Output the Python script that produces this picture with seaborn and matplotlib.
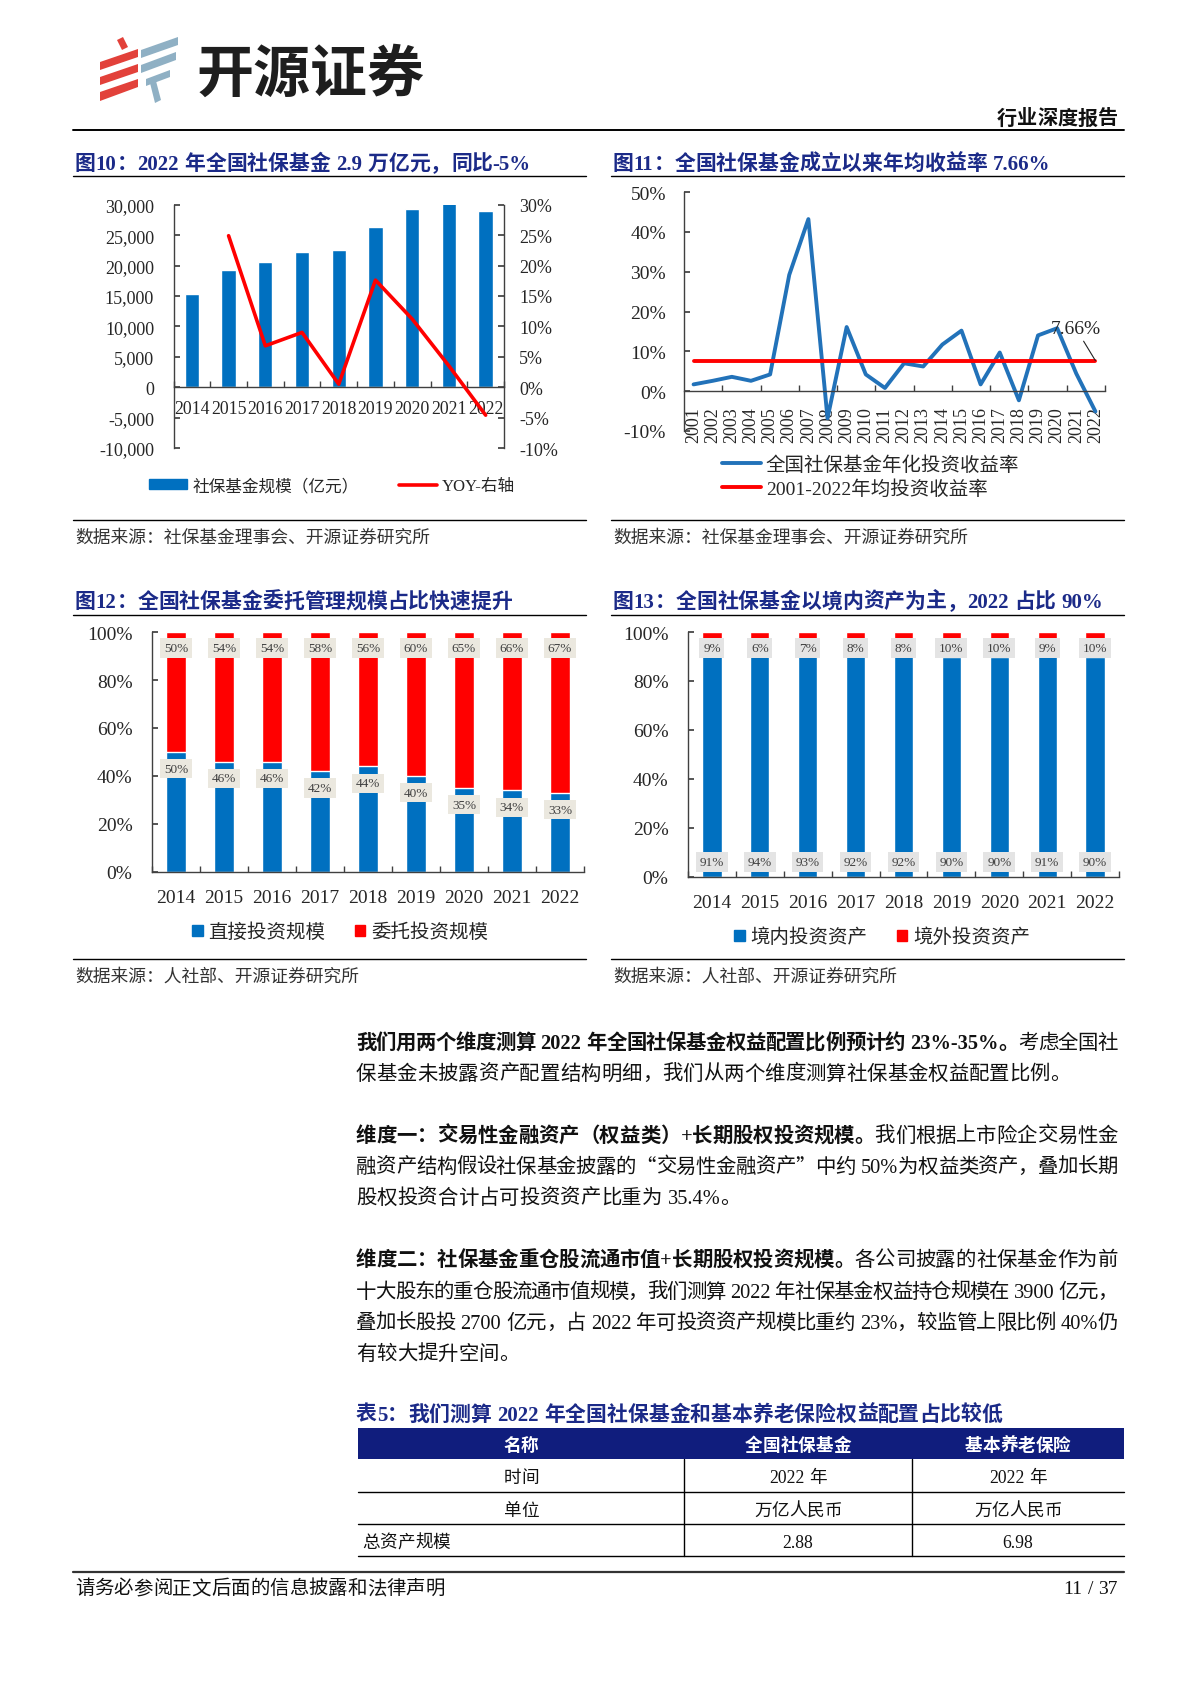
import matplotlib
matplotlib.use('Agg')
import numpy as np
import seaborn as sns
import matplotlib.pyplot as plt
from matplotlib.lines import Line2D
from matplotlib.patches import Patch, Polygon, Rectangle
from matplotlib.ticker import FuncFormatter

# ---------------- data ----------------
years_a = ['2014', '2015', '2016', '2017', '2018', '2019', '2020', '2021', '2022']
fund_scale = [15350, 19190, 20510, 22270, 22490, 26320, 29300, 30270, 28950]   # 亿元
yoy = [24.9, 6.8, 9.0, 0.5, 17.6, 11.2, 3.5, -4.6]                             # 2015-2022, %

years_b = [str(y) for y in range(2001, 2023)]
returns = [1.7, 2.6, 3.6, 2.6, 4.2, 29.2, 43.2, -6.8, 16.1, 4.2, 0.8,
           7.0, 6.2, 11.7, 15.2, 1.7, 9.7, -2.3, 14.0, 15.8, 4.4, -5.1]
avg_return = 7.66

direct = [50, 46, 46, 42, 44, 40, 35, 34, 33]
entrusted = [50, 54, 54, 58, 56, 60, 65, 66, 67]

domestic = [91, 94, 93, 92, 92, 90, 90, 91, 90]
overseas = [9, 6, 7, 8, 8, 10, 10, 9, 10]

table_head = ['名称', '全国社保基金', '基本养老保险']
table_rows = [['时间', '2022 年', '2022 年'],
              ['单位', '万亿人民币', '万亿人民币'],
              ['总资产规模', '2.88', '6.98']]

# ---------------- style ----------------
W, H = 1190, 1683
LATIN = 'Liberation Serif'
CJK = 'Noto Sans CJK SC'
NAVY = '#1b2a88'
BLUE = '#0070c0'
LBLUE = '#2272b9'
RED = '#ff0000'
AXC = '#404040'

sns.set_theme(style='white')
plt.rcParams['font.family'] = [LATIN, CJK]
plt.rcParams['axes.unicode_minus'] = False

fig = plt.figure(figsize=(W / 100, H / 100), dpi=100)
fig.patch.set_facecolor('white')
renderer = fig.canvas.get_renderer()


def fx(x):
    return x / W


def fy(y):
    return 1 - y / H


def add_axes(l, t, r, b):
    ax = fig.add_axes([fx(l), fy(b), (r - l) / W, (b - t) / H])
    ax.set_facecolor('none')
    return ax


def hline(x0, x1, y, lw=1.0, color='black'):
    fig.add_artist(Line2D([fx(x0), fx(x1)], [fy(y), fy(y)], transform=fig.transFigure,
                          lw=lw, color=color))


def vline(x, y0, y1, lw=1.0, color='black'):
    fig.add_artist(Line2D([fx(x), fx(x)], [fy(y0), fy(y1)], transform=fig.transFigure,
                          lw=lw, color=color))


def is_wide(ch):
    return ord(ch) > 0x2000


def tokenize(runs):
    toks = []
    for text, bold in runs:
        buf, sp = '', False
        for ch in text:
            if ch == ' ':
                if buf:
                    toks.append((buf, bold, sp))
                    buf = ''
                sp = True
            elif is_wide(ch):
                if buf:
                    toks.append((buf, bold, sp))
                    buf, sp = '', False
                toks.append((ch, bold, sp))
                sp = False
            else:
                buf += ch
        if buf:
            toks.append((buf, bold, sp))
    return toks


def draw_runs(x, yc, runs, size, color='#111111', align='left', right=None):
    """mixed CJK / latin text, optionally justified up to `right`"""
    em = size * 100 / 72
    toks = tokenize(runs)
    arts, widths = [], []
    for t, b, sp in toks:
        wide = is_wide(t[0])
        a = fig.text(0, 0, t, fontsize=size, color=color,
                     fontweight='bold' if b else 'normal',
                     family=[CJK] if wide else [LATIN], ha='left', va='baseline')
        arts.append(a)
        widths.append(em if wide else a.get_window_extent(renderer).width)
    gaps = [0.27 * em if sp else 0.0 for _, _, sp in toks]
    gaps[0] = 0.0
    total = sum(widths) + sum(gaps)
    extra = 0.0
    if right is not None and len(toks) > 1:
        extra = (right - x - total) / (len(toks) - 1)
    if align == 'center':
        x -= total / 2
    elif align == 'right':
        x -= total
    base = yc + 0.37 * em
    for i, a in enumerate(arts):
        if i:
            x += gaps[i] + extra
        a.set_position((fx(x), fy(base)))
        x += widths[i]


def pct(v, p):
    return f'{v:.0f}%'


# ---------------- page header ----------------
logo_red = [[(117, 41), (123, 38), (128, 48), (122, 51)],
            [(100, 63), (138, 50), (138, 58), (100, 71)],
            [(100, 78), (138, 65), (138, 73), (100, 86)],
            [(100, 93), (138, 80), (138, 88), (100, 102)]]
logo_blue = [[(141, 51), (178, 38), (178, 46), (141, 59)],
             [(141, 66), (176, 53), (176, 61), (141, 74)],
             [(146, 80), (170, 71), (170, 78), (146, 87)],
             [(150, 84), (156, 82), (161, 101), (155, 104)]]
for shape in logo_red:
    fig.add_artist(Polygon([(fx(a), fy(b)) for a, b in shape], closed=True,
                           transform=fig.transFigure, color='#e2413a', lw=0))
for shape in logo_blue:
    fig.add_artist(Polygon([(fx(a), fy(b)) for a, b in shape], closed=True,
                           transform=fig.transFigure, color='#8fb0c4', lw=0))
fig.text(fx(197), fy(75), '开源证券', fontsize=41, fontweight='bold', family=[CJK],
         color='#1e1e1e', ha='left', va='center')
draw_runs(1118, 117, [('行业深度报告', True)], 14.5, align='right')
hline(73, 1124, 131, lw=1.4)

# ---------------- titles / rules / sources ----------------
draw_runs(75, 162, [('图10：2022 年全国社保基金 2.9 万亿元，同比-5%', True)], 15, color=NAVY)
draw_runs(613, 162, [('图11：全国社保基金成立以来年均收益率 7.66%', True)], 15, color=NAVY)
draw_runs(75, 600, [('图12：全国社保基金委托管理规模占比快速提升', True)], 15, color=NAVY)
draw_runs(613, 600, [('图13：全国社保基金以境内资产为主，2022 占比 90%', True)], 15, color=NAVY)
for y in (177, 521, 616, 960):
    hline(73, 586, y)
    hline(611, 1124, y)
for x, y, s in [(75, 538, '数据来源：社保基金理事会、开源证券研究所'),
                (613, 538, '数据来源：社保基金理事会、开源证券研究所'),
                (75, 977, '数据来源：人社部、开源证券研究所'),
                (613, 977, '数据来源：人社部、开源证券研究所')]:
    fig.text(fx(x), fy(y), s, fontsize=12.8, family=[CJK], color='#333333',
             ha='left', va='center')

# ---------------- chart 10 ----------------
pos_a = np.arange(len(years_a))
ax = add_axes(173.5, 205.7, 504, 449)
sns.barplot(x=pos_a, y=fund_scale, native_scale=True, orient='x', color=BLUE,
            saturation=1, width=0.39, ax=ax)
ax.set_xlim(-0.5, 8.5)
ax.set_ylim(-10000, 30000)
ax.set_yticks(np.arange(-10000, 30001, 5000))
ax.yaxis.set_major_formatter(FuncFormatter(lambda v, p: f'{v:,.0f}'))
ax.set_xticks(pos_a, years_a)
ax.set_xticks(np.arange(-0.5, 9, 1), minor=True)
ax.spines['bottom'].set_position(('data', 0))
ax.spines[['top', 'right']].set_visible(False)
for s in ('left', 'bottom'):
    ax.spines[s].set_color(AXC)
    ax.spines[s].set_linewidth(1.0)
ax.tick_params(axis='y', direction='in', length=4, pad=14, labelsize=13, color=AXC, left=True)
ax.tick_params(axis='x', which='major', length=0, pad=9, labelsize=12.8)
ax.tick_params(axis='x', which='minor', direction='in', length=4, color=AXC, bottom=True)
ax.set(xlabel='', ylabel='')

ax2 = add_axes(173.5, 205.7, 504, 449)
sns.lineplot(x=pos_a[1:], y=yoy, color=RED, linewidth=2.6, ax=ax2)
ax2.set_xlim(-0.5, 8.5)
ax2.set_ylim(-10, 30)
ax2.set_yticks(np.arange(-10, 31, 5))
ax2.yaxis.set_major_formatter(FuncFormatter(pct))
ax2.yaxis.tick_right()
ax2.spines[['top', 'left', 'bottom']].set_visible(False)
ax2.spines['right'].set_visible(True)
ax2.spines['right'].set_color(AXC)
ax2.spines['right'].set_linewidth(1.0)
ax2.set_xticks([])
ax2.tick_params(axis='y', direction='in', length=4, pad=11, labelsize=13, color=AXC, right=True)
ax2.set(xlabel='', ylabel='')

h10 = [Patch(color=BLUE), Line2D([], [], color=RED, lw=2.6)]
fig.legend(h10, ['社保基金规模（亿元）', 'YOY-右轴'], loc='center',
           bbox_to_anchor=(fx(332), fy(487)), ncol=2, frameon=False, fontsize=12,
           handlelength=2.3, handleheight=0.55, handletextpad=0.3, columnspacing=2.4,
           borderpad=0, borderaxespad=0)

# ---------------- chart 11 ----------------
pos_b = np.arange(len(years_b))
ax = add_axes(684, 193, 1105, 432)
sns.lineplot(x=pos_b, y=returns, color=LBLUE, linewidth=2.8, ax=ax)
sns.lineplot(x=[pos_b[0], pos_b[-1]], y=[avg_return, avg_return], color=RED, linewidth=2.8, ax=ax)
ax.set_xlim(-0.5, 21.5)
ax.set_ylim(-10, 50)
ax.set_yticks(np.arange(-10, 51, 10))
ax.yaxis.set_major_formatter(FuncFormatter(pct))
ax.set_xticks(pos_b, years_b)
ax.set_xticks(np.arange(1.5, 22, 2), minor=True)
ax.spines['bottom'].set_position(('data', 0))
ax.spines[['top', 'right']].set_visible(False)
for s in ('left', 'bottom'):
    ax.spines[s].set_color(AXC)
    ax.spines[s].set_linewidth(1.0)
ax.tick_params(axis='y', direction='in', length=4, pad=13, labelsize=14, color=AXC, left=True)
ax.tick_params(axis='x', which='major', length=0, pad=11, labelsize=13, labelrotation=90)
ax.tick_params(axis='x', which='minor', direction='in', length=4, color=AXC, bottom=True)
ax.set(xlabel='', ylabel='')
ax.annotate(f'{avg_return:.2f}%', xy=(pos_b[-1], avg_return), xytext=(19.97, 15.8),
            ha='center', va='center', fontsize=14,
            arrowprops=dict(arrowstyle='-', color='#222222', lw=0.8, shrinkA=1, shrinkB=0))

h11 = [Line2D([], [], color=LBLUE, lw=2.8), Line2D([], [], color=RED, lw=2.8)]
fig.legend(h11, ['全国社保基金年化投资收益率', '2001-2022年均投资收益率'], loc='center left',
           bbox_to_anchor=(fx(722), fy(477.5)), ncol=1, frameon=False, fontsize=14,
           handlelength=2.0, handletextpad=0.25, labelspacing=0.25,
           borderpad=0, borderaxespad=0)


# ---------------- chart 12 / 13 (stacked 100%) ----------------
def stacked(l, t, r, b, low, high, low_lab_y, high_lab_y, box_fc):
    pos = np.arange(len(years_a))
    total = [a + c for a, c in zip(low, high)]
    ax = add_axes(l, t, r, b)
    sns.barplot(x=pos, y=total, native_scale=True, orient='x', color=RED,
                saturation=1, width=0.4, ax=ax)
    sns.barplot(x=pos, y=low, native_scale=True, orient='x', color=BLUE,
                saturation=1, width=0.4, ax=ax)
    ax.set_xlim(-0.5, 8.5)
    ax.set_ylim(0, 100)
    ax.set_yticks(np.arange(0, 101, 20))
    ax.yaxis.set_major_formatter(FuncFormatter(pct))
    ax.set_xticks(pos, years_a)
    ax.set_xticks(np.arange(-0.5, 9, 1), minor=True)
    ax.spines[['top', 'right']].set_visible(False)
    for s in ('left', 'bottom'):
        ax.spines[s].set_color(AXC)
        ax.spines[s].set_linewidth(1.0)
    ax.tick_params(axis='y', direction='in', length=4, pad=14, labelsize=14, color=AXC, left=True)
    ax.tick_params(axis='x', which='major', length=0, pad=12, labelsize=14)
    ax.tick_params(axis='x', which='minor', direction='in', length=4, color=AXC, bottom=True)
    ax.set(xlabel='', ylabel='')
    box = dict(boxstyle='square,pad=0.28', fc=box_fc, ec='none')
    for i in pos:
        ax.text(i, low_lab_y[i], f'{low[i]}%', ha='center', va='center', fontsize=9.5,
                color='#404040', bbox=box)
        ax.text(i, high_lab_y[i], f'{high[i]}%', ha='center', va='center', fontsize=9.5,
                color='#404040', bbox=box)
    return ax


stacked(152, 633, 584, 873, direct, entrusted, [v - 7 for v in direct], [93.3] * 9, '#ebe8df')
stacked(688, 633, 1119, 878, domestic, overseas, [6.1] * 9, [93.5] * 9, '#e4e4e4')

for cx, cy, labels in [(340, 933, ['直接投资规模', '委托投资规模']),
                       (882, 938, ['境内投资资产', '境外投资资产'])]:
    fig.legend([Patch(color=BLUE), Patch(color=RED)], labels, loc='center',
               bbox_to_anchor=(fx(cx), fy(cy)), ncol=2, frameon=False, fontsize=14,
               handlelength=0.55, handleheight=0.55, handletextpad=0.3, columnspacing=1.5,
               borderpad=0, borderaxespad=0)

# ---------------- body text ----------------
body = [
    (1041, [('我们用两个维度测算 2022 年全国社保基金权益配置比例预计约 23%-35%。', True), ('考虑全国社', False)], True),
    (1072, [('保基金未披露资产配置结构明细，我们从两个维度测算社保基金权益配置比例。', False)], False),
    (1134, [('维度一：交易性金融资产（权益类）+长期股权投资规模。', True), ('我们根据上市险企交易性金', False)], True),
    (1165, [('融资产结构假设社保基金披露的“交易性金融资产”中约 50%为权益类资产，叠加长期', False)], True),
    (1196, [('股权投资合计占可投资资产比重为 35.4%。', False)], False),
    (1258, [('维度二：社保基金重仓股流通市值+长期股权投资规模。', True), ('各公司披露的社保基金作为前', False)], True),
    (1290, [('十大股东的重仓股流通市值规模，我们测算 2022 年社保基金权益持仓规模在 3900 亿元，', False)], True),
    (1321, [('叠加长股投 2700 亿元，占 2022 年可投资资产规模比重约 23%，较监管上限比例 40%仍', False)], True),
    (1352, [('有较大提升空间。', False)], False),
]
for y, runs, just in body:
    draw_runs(356, y, runs, 14.7, right=1118 if just else None)

# ---------------- table ----------------
draw_runs(356, 1413, [('表5：我们测算 2022 年全国社保基金和基本养老保险权益配置占比较低', True)], 15, color=NAVY)
col_x = [358, 684, 912, 1124]
fig.add_artist(Rectangle((fx(col_x[0]), fy(1460)), (col_x[-1] - col_x[0]) / W, 31 / H,
                         transform=fig.transFigure, color='#101d7d', lw=0))
for j, name in enumerate(table_head):
    draw_runs((col_x[j] + col_x[j + 1]) / 2, 1444.5, [(name, True)], 12.7,
              color='white', align='center')
row_y = [1460, 1493, 1525, 1557]
for i, row in enumerate(table_rows):
    yc = (row_y[i] + row_y[i + 1]) / 2
    for j, cell in enumerate(row):
        if i == 2 and j == 0:
            draw_runs(362, yc, [(cell, False)], 12.7)
        else:
            draw_runs((col_x[j] + col_x[j + 1]) / 2, yc, [(cell, False)], 12.7, align='center')
    hline(col_x[0], col_x[-1], row_y[i + 1], lw=1.0)
for x in col_x[1:-1]:
    vline(x, row_y[0], row_y[-1], lw=1.0)

# ---------------- footer ----------------
hline(73, 1124, 1573, lw=1.6, color='#333333')
draw_runs(75, 1587, [('请务必参阅正文后面的信息披露和法律声明', False)], 14)
draw_runs(1118, 1587, [('11 / 37', False)], 14, align='right')

fig.savefig('out.png', dpi=100)
